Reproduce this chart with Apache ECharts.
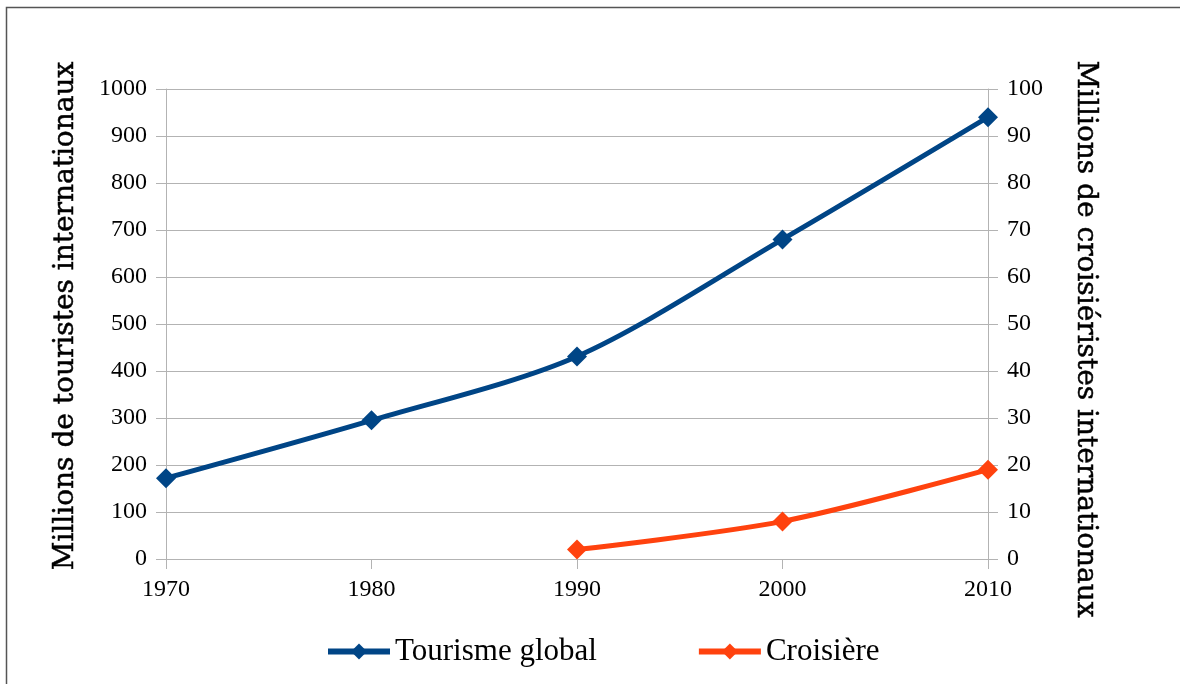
<!DOCTYPE html>
<html>
<head>
<meta charset="utf-8">
<script src="https://cdn.jsdelivr.net/npm/echarts@6/dist/echarts.min.js"></script>
<style>
    html, body { margin: 0; padding: 0; background: #fff; }
    #main { width: 1180px; height: 684px; }
</style>
</head>
<body>
<div id="main"></div>
<script>
    // données
    var annees = ['1970', '1980', '1990', '2000', '2010'];
    var tourismeGlobal = [172, 295, 431, 680, 940];   // axe de gauche
    var croisiere = [null, null, 2, 8, 19];           // axe de droite
    var nomsSeries = ['Tourisme global', 'Croisière'];
    var titresAxes = ['Millions de touristes internationaux', 'Millions de croisiéristes internationaux'];

    var serif = "'Liberation Serif'";
    var serifTitre = "'DejaVu Serif'";
    var gris = '#b3b3b3';

    var myChart = echarts.init(document.getElementById('main'));

    function axeY(min, max, interval) {
        return {
            type: 'value',
            min: min,
            max: max,
            interval: interval,
            axisLine: { show: true, lineStyle: { color: gris, width: 1 } },
            axisTick: { show: true, length: 10, lineStyle: { color: gris } },
            axisLabel: {
                margin: 19, fontFamily: serif, fontSize: 24, color: '#000',
                formatter: function (v) { return String(v); }
            },
            splitLine: { show: true, lineStyle: { color: gris, width: 1 } }
        };
    }

    // titres des axes placés à la main
    function titre(texte, x, y, rot) {
        return {
            type: 'text',
            x: x,
            y: y,
            rotation: rot,
            silent: true,
            style: {
                text: texte,
                fontFamily: serifTitre,
                fontSize: 28,
                fill: '#000',
                stroke: '#000',
                lineWidth: 0.5,
                align: 'center',
                verticalAlign: 'middle'
            }
        };
    }

    var option = {
        animation: false,
        backgroundColor: '#fff',
        graphic: [
            {
                type: 'rect',
                shape: { x: 6.5, y: 7.5, width: 1200, height: 700 },
                style: { fill: 'none', stroke: '#555', lineWidth: 1.5 },
                silent: true
            },
            titre(titresAxes[0], 66, 316, Math.PI / 2),
            titre(titresAxes[1], 1085, 339, -Math.PI / 2)
        ],
        grid: { left: 166, right: 192, top: 89, bottom: 125 },
        legend: {
            data: nomsSeries,
            left: 320,
            top: 631,
            itemWidth: 62,
            itemHeight: 20,
            itemGap: 99,
            lineStyle: { width: 6 },
            textStyle: { fontFamily: serif, fontSize: 31, color: '#000' }
        },
        xAxis: {
            type: 'category',
            data: annees,
            boundaryGap: false,
            axisLine: { lineStyle: { color: gris } },
            axisTick: { show: true, length: 10, lineStyle: { color: gris } },
            axisLabel: { margin: 19, fontFamily: serif, fontSize: 24, color: '#000' },
            splitLine: { show: false }
        },
        yAxis: [
            axeY(0, 1000, 100),
            axeY(0, 100, 10)
        ],
        series: [
            {
                name: nomsSeries[0],
                type: 'line',
                yAxisIndex: 0,
                data: tourismeGlobal,
                smooth: 0.3,
                symbol: 'diamond',
                symbolSize: 20,
                color: '#004586',
                lineStyle: { width: 5, color: '#004586' },
                itemStyle: { color: '#004586' }
            },
            {
                name: nomsSeries[1],
                type: 'line',
                yAxisIndex: 1,
                data: croisiere,
                smooth: 0.3,
                symbol: 'diamond',
                symbolSize: 20,
                color: '#ff420e',
                lineStyle: { width: 5, color: '#ff420e' },
                itemStyle: { color: '#ff420e' }
            }
        ]
    };

    myChart.setOption(option);
</script>
</body>
</html>
